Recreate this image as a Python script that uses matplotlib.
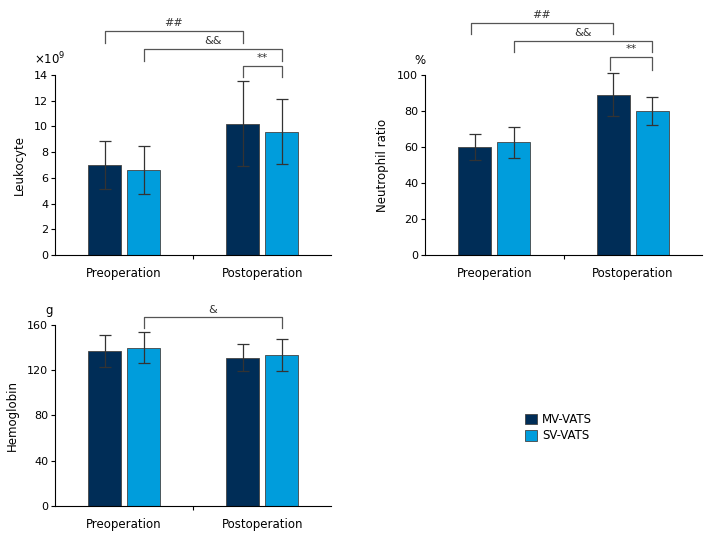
import matplotlib
matplotlib.use("Agg")
from matplotlib import pyplot as plt
from matplotlib.patches import Patch

plt.rcParams['font.family'] = ['Liberation Sans Narrow', 'DejaVu Sans']
plt.rcParams['font.size'] = 8

groups = ['Preoperation', 'Postoperation']
series = ['MV-VATS', 'SV-VATS']
colors = ['#002d57', '#009ddc']

leuko_mv = [7.0, 10.2]
leuko_mv_err = [1.9, 3.3]
leuko_sv = [6.6, 9.6]
leuko_sv_err = [1.85, 2.5]

neut_mv = [60.0, 89.0]
neut_mv_err = [7.5, 12.0]
neut_sv = [62.5, 80.0]
neut_sv_err = [8.5, 8.0]

hemo_mv = [137.0, 131.0]
hemo_mv_err = [14.5, 12.0]
hemo_sv = [140.0, 133.5]
hemo_sv_err = [14.0, 14.5]

W = 0.24
OFF = 0.141


def bracket(ax, x1, x2, top, drop, label):
	ax.plot([x1, x1, x2, x2], [top - drop, top, top, top - drop],
			color='#555555', lw=0.9, clip_on=False)
	ax.text((x1 + x2) / 2, top + drop * 0.25, label, ha='center', va='bottom',
			fontsize=8, color='#333333', clip_on=False)


def draw_panel(ax, mv, mv_err, sv, sv_err, ylabel, unit, ymax, yticks):
	xs = [0, 1]
	ekw = dict(ecolor='#333333', elinewidth=0.9, capsize=4, capthick=0.9)
	b1 = ax.bar([x - OFF for x in xs], mv, W, color=colors[0], edgecolor='#444444', lw=0.6,
				yerr=mv_err, error_kw=ekw)
	b2 = ax.bar([x + OFF for x in xs], sv, W, color=colors[1], edgecolor='#444444', lw=0.6,
				yerr=sv_err, error_kw=ekw)
	for b in (b1, b2):
		_, caps, lines = b.errorbar.lines
		for a in list(caps) + list(lines):
			a.set_clip_on(False)
	ax.set_xlim(-0.5, 1.5)
	ax.set_ylim(0, ymax)
	ax.set_yticks(yticks)
	ax.set_xticks([0.5])
	ax.set_xticklabels([''])
	for i, g in enumerate(groups):
		ax.text(i, -0.065, g, transform=ax.get_xaxis_transform(), ha='center', va='top', fontsize=8.5)
	ax.spines['top'].set_visible(False)
	ax.spines['right'].set_visible(False)
	ax.tick_params(axis='x', length=3, width=0.8)
	ax.tick_params(axis='y', length=3, width=0.8, pad=2)
	ax.set_ylabel(ylabel, fontsize=8.5, labelpad=6)
	# unit label above the y axis
	ax.text(-0.02, 1.08, unit, transform=ax.transAxes, ha='center', va='center', fontsize=8.5)


fig = plt.figure(figsize=(7.2, 5.4), dpi=100)

ax1 = fig.add_axes([0.0764, 0.5278, 0.384, 0.3333])
draw_panel(ax1, leuko_mv, leuko_mv_err, leuko_sv, leuko_sv_err, 'Leukocyte',
		   r'$\times$10$^9$', 14, range(0, 15, 2))
ax1.texts[-1].set_position((-0.02, 1.09))
bracket(ax1, -OFF, 1 - OFF, 17.4, 0.9, '##')
bracket(ax1, OFF, 1 + OFF, 16.0, 0.9, '&&')
bracket(ax1, 1 - OFF, 1 + OFF, 14.7, 0.85, '**')

ax2 = fig.add_axes([0.5903, 0.5278, 0.3847, 0.3333])
draw_panel(ax2, neut_mv, neut_mv_err, neut_sv, neut_sv_err, 'Neutrophil ratio',
		   '%', 100, range(0, 101, 20))
bracket(ax2, -OFF - 0.03, 1 - OFF, 129, 6.3, '##')
bracket(ax2, OFF, 1 + OFF, 119, 6.4, '&&')
bracket(ax2, 1 - OFF - 0.02, 1 + OFF, 109.8, 7, '**')

ax3 = fig.add_axes([0.0764, 0.0630, 0.384, 0.3352])
draw_panel(ax3, hemo_mv, hemo_mv_err, hemo_sv, hemo_sv_err, 'Hemoglobin',
		   'g', 160, range(0, 161, 40))
bracket(ax3, OFF, 1 + OFF, 166.8, 9.8, '&')

handles = [Patch(facecolor=colors[i], edgecolor='#444444', lw=0.6, label=series[i]) for i in range(2)]
fig.legend(handles=handles, loc='upper left', bbox_to_anchor=(0.715, 0.255), frameon=False,
		   handlelength=1.0, handleheight=1.0, handletextpad=0.4, labelspacing=0.3, fontsize=8.5)

fig.savefig('out.png', dpi=100)
